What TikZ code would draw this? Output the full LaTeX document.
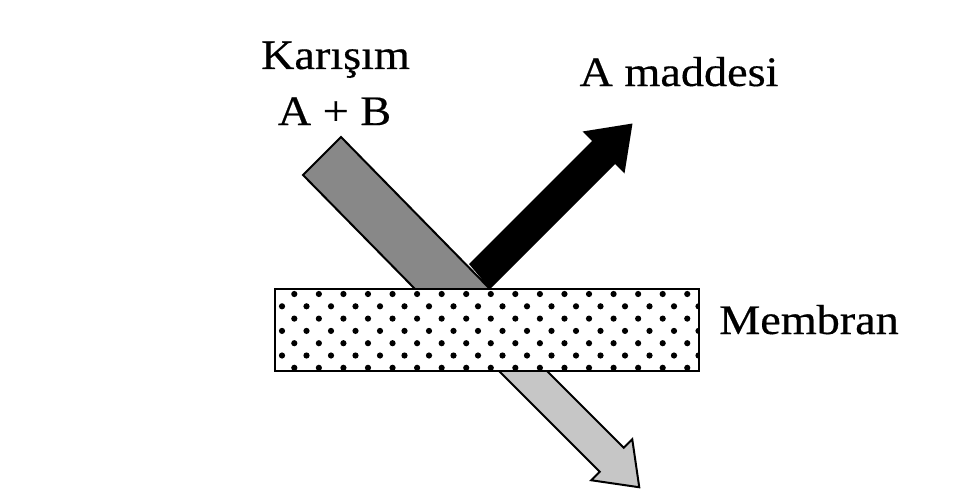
\documentclass[tikz,border=0pt]{standalone}
\usepackage{fontspec}
\setmainfont{Liberation Serif}
\newfontfamily\lblfont[FakeBold=0.4]{Liberation Serif}
\definecolor{bargray}{RGB}{136,136,136}
\definecolor{lightbar}{RGB}{198,198,198}
\begin{document}
\begin{tikzpicture}[x=1pt,y=-1pt,
  lbl/.style={inner sep=0pt, font=\lblfont\fontsize{42}{50}\selectfont},
  outline/.style={draw=black, line width=2pt, line join=miter},
  dot/.style={fill=black}]
\useasboundingbox (0,0) rectangle (980,503);
\fill[white] (0,0) rectangle (980,503);
% incoming mixture bar
\filldraw[fill=bargray, outline] (303,175) -- (341,137) -- (490,289) -- (415,289) -- cycle;
% A arrow (black)
\fill[black] (469,264) -- (592,141) -- (582.5,131.5) -- (632.5,123.5) -- (624.5,173.5) -- (615,164) -- (490,289) -- cycle;
% lower arrow (B)
\fill[lightbar] (499,371) -- (599.75,471.75) -- (591.25,480.25) -- (639.25,487.25) -- (632.25,439.25) -- (623.75,447.75) -- (547,371) -- cycle;
\draw[outline] (499,371) -- (599.75,471.75) -- (591.25,480.25) -- (639.25,487.25) -- (632.25,439.25) -- (623.75,447.75) -- (547,371);
% membrane
\fill[white] (275,289) rectangle (699,371);
\begin{scope}
\clip (275,289) rectangle (699,371);
\foreach \yy in {294,318.6,343.2,367.8} \foreach \j in {0,...,16} \fill[dot] ({294.3+24.56*\j},\yy) circle (3.1pt);
\foreach \yy in {306.3,330.9,355.5} \foreach \j in {0,...,17} \fill[dot] ({282+24.5*\j},\yy) circle (3.1pt);
\end{scope}
\draw[line width=1.5pt] (275,289) rectangle (699,371);
% labels
\node[lbl, anchor=base] (kar) at (335.5,69) {\scalebox{1.1}[1]{Karışım}};
\node[lbl, anchor=base] (ab) at (334.5,125) {\scalebox{1.1}[1]{A + B}};
\node[lbl, anchor=base] (am) at (679,86) {\scalebox{1.1}[1]{A maddesi}};
\node[lbl, anchor=base west] (mem) at (719,334) {\scalebox{1.1}[1]{Membran}};
\end{tikzpicture}
\end{document}
